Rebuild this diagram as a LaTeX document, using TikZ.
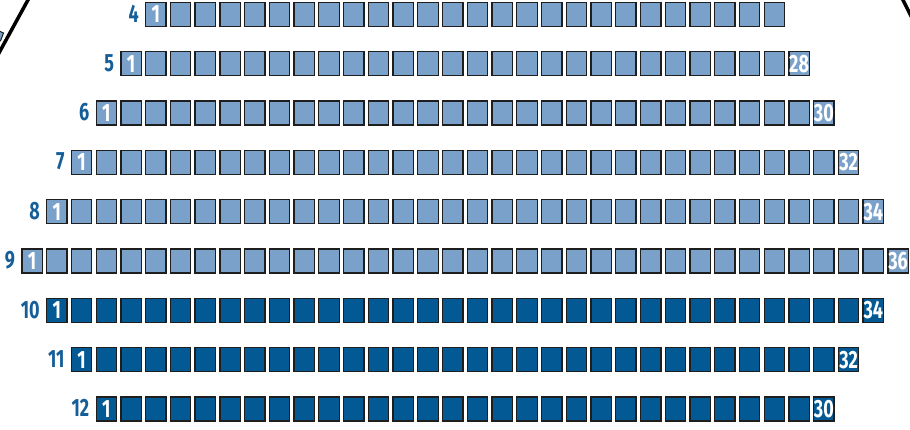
\documentclass[tikz,border=0pt]{standalone}
\usepackage{fontspec}
\setmainfont{Fira Sans}[FakeStretch=0.72]
\definecolor{lightseat}{RGB}{122,161,202}
\definecolor{darkseat}{RGB}{2,89,147}
\definecolor{labelblue}{RGB}{22,94,152}
\definecolor{seatedge}{RGB}{30,30,30}
\begin{document}
\begin{tikzpicture}[x=1pt,y=-1pt,
  seat/.style={draw=seatedge, line width=1.3pt, minimum width=20.4pt, minimum height=24pt,
    inner sep=0pt, anchor=north west, text=white, font=\bfseries\fontsize{25}{25}\selectfont},
  rowlabel/.style={anchor=east, text=labelblue, inner sep=0pt, font=\bfseries\fontsize{25}{25}\selectfont},
  wall/.style={line width=3.5pt, draw=black}]
\useasboundingbox (0,0) rectangle (910,430);
% walls
\draw[wall] (29.6,-3) -- (-1.6,54);
\draw[wall] (901.5,-3) -- (912,18);
% fragment of a seat at the left edge
\filldraw[fill=lightseat, draw=seatedge, line width=1pt] (-3,30) -- (3.5,33) -- (0.5,41) -- (-3,41) -- cycle;
% seats
\foreach \r/\n in {4/26,5/28,6/30,7/32,8/34,9/36,10/34,11/32,12/30}{
  \pgfmathsetmacro\xo{20.7+abs(9-\r)*24.74}
  \pgfmathsetmacro\yt{1+(\r-4)*49.35}
  \ifnum\r<10 \def\sc{lightseat}\else\def\sc{darkseat}\fi
  \node[rowlabel] (lab\r) at (\xo-5.5,\yt+12.5) {\r};
  \foreach \i in {1,...,\n}{
    \node[seat, fill=\sc] (s\r-\i) at (\xo+\i*24.74-24.74+0.6,\yt+0.6)
      {\ifnum\i=1\relax\i\else\ifnum\i=\n\relax\ifnum\r=4\relax\else\i\fi\fi\fi};
  }
}
\end{tikzpicture}
\end{document}
